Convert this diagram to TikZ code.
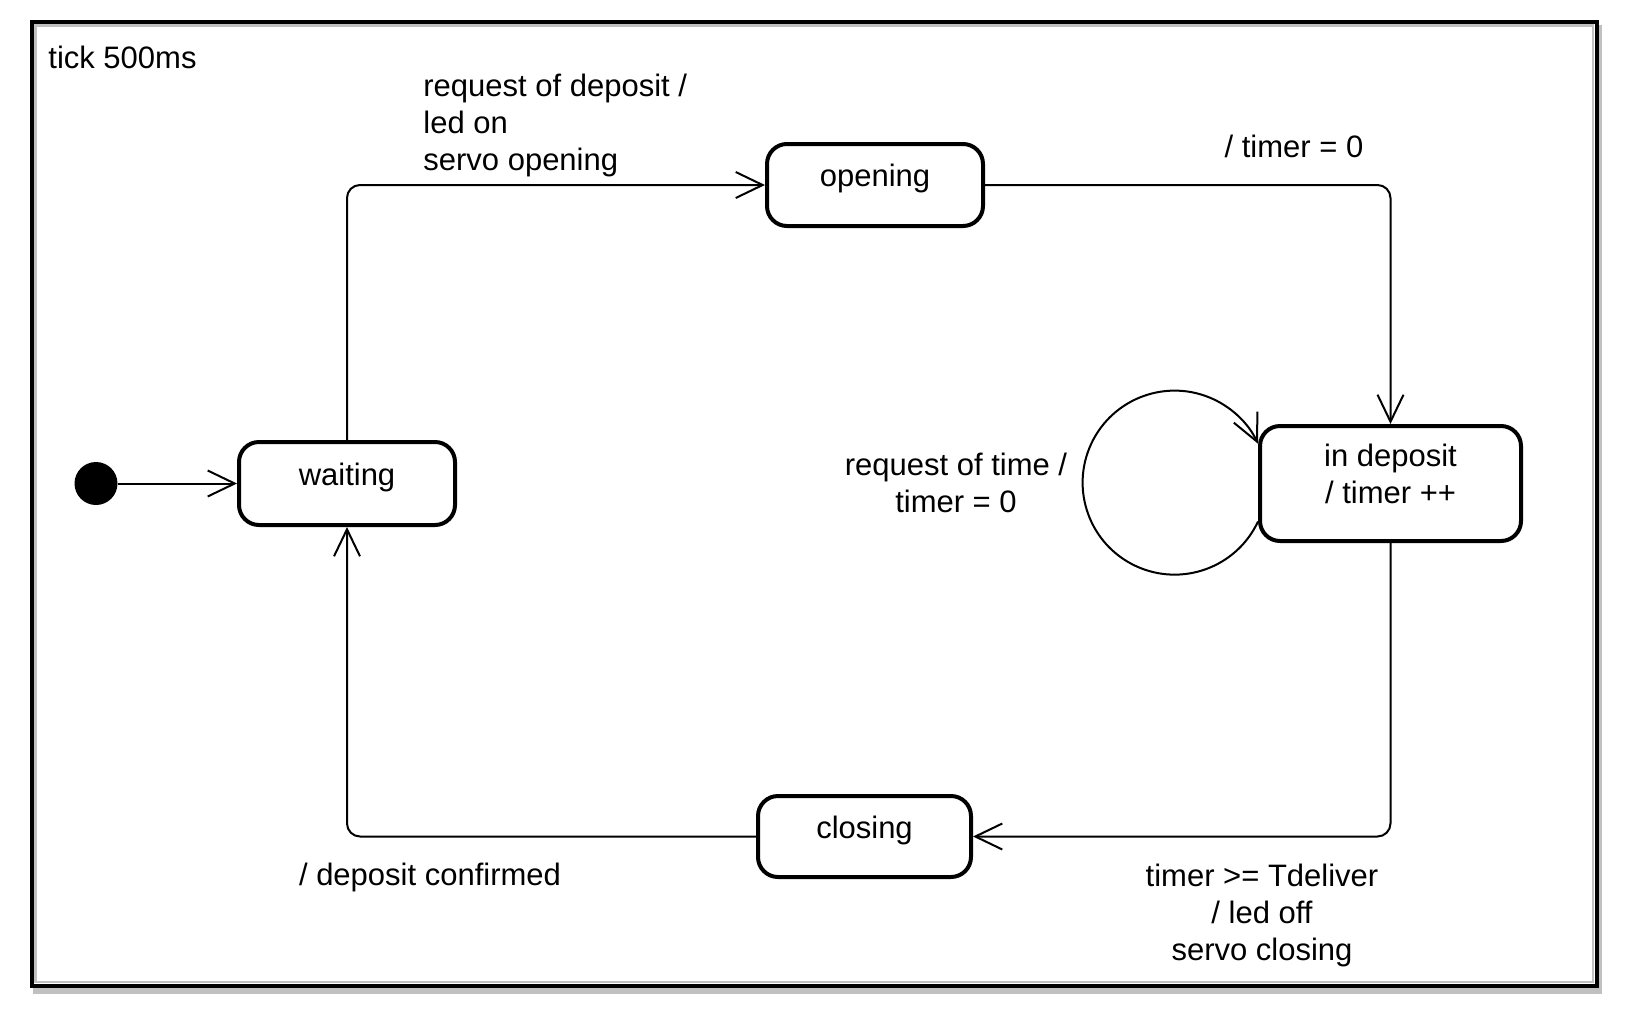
\documentclass[tikz,border=0pt]{standalone}
\usepackage{fontspec}
\setmainfont{Liberation Sans}
\usetikzlibrary{arrows.meta}
\definecolor{framegray}{RGB}{192,192,192}

\begin{document}
\begin{tikzpicture}[x=5pt,y=5pt]
\tikzstyle{every node}+=[inner sep=0pt, font=\fontsize{15.5pt}{18.5pt}\selectfont]
\tikzstyle{state}=[draw=black, line width=2pt, rounded corners=10pt, text height=8pt, text depth=6.5pt]
\tikzstyle{trans}=[draw=black, line width=1pt, rounded corners=6.5pt, -{Straight Barb[length=13.5pt,width=13pt]}]
\useasboundingbox (0,0) rectangle (163.9,-101.8);
% frame
\fill [framegray] (3.3,-2.5) rectangle (160.2,-99.4);
\draw [black, line width=2pt, fill=white] (3.2,-2.2) rectangle (159.65,-98.55);
\draw [framegray, line width=1.2pt] (3.55,-2.55) rectangle (159.3,-98.2);
\node [anchor=base west] (tick) at (4.8,-6.8) {tick 500ms};
% states
\node [circle, fill=black, minimum size=21.5pt] (init) at (9.6,-48.35) {};
\node [state, minimum width=108pt, minimum height=41.5pt] (waiting) at (34.7,-48.35) {waiting};
\node [state, minimum width=108pt, minimum height=41pt] (opening) at (87.5,-18.5) {opening};
\node [state, minimum width=130.5pt, minimum height=57.5pt, align=center, text height=21pt, text depth=1.5pt] (dep) at (139.05,-48.35) {in deposit\\/ timer ++};
\node [state, minimum width=106.5pt, minimum height=40.5pt] (closing) at (86.45,-83.65) {closing};
% transitions
\draw [trans] (init) -- (waiting);
\draw [trans] (waiting) |- (opening);
\draw [trans] (opening) -| (dep);
\draw [trans] (dep) |- (closing);
\draw [trans] (closing) -| (waiting);
\coordinate (loopout) at ([yshift=-19pt]dep.west);
\draw [trans] (loopout) arc [start angle=-25, end angle=-335, radius=46pt];
% labels (base = last line)
\node [anchor=base west, align=left] (lreq) at (42.3,-17.0) {request of deposit /\\led on\\servo opening};
\node [anchor=base] (ltimer) at (129.4,-15.7) {/ timer = 0};
\node [anchor=base, align=center] (lreqtime) at (95.6,-51.2) {request of time /\\timer = 0};
\node [anchor=base, align=center] (ldeliver) at (126.2,-96.0) {timer >= Tdeliver\\/ led off\\servo closing};
\node [anchor=base] (lconfirm) at (43.0,-88.5) {/ deposit confirmed};
\end{tikzpicture}
\end{document}
